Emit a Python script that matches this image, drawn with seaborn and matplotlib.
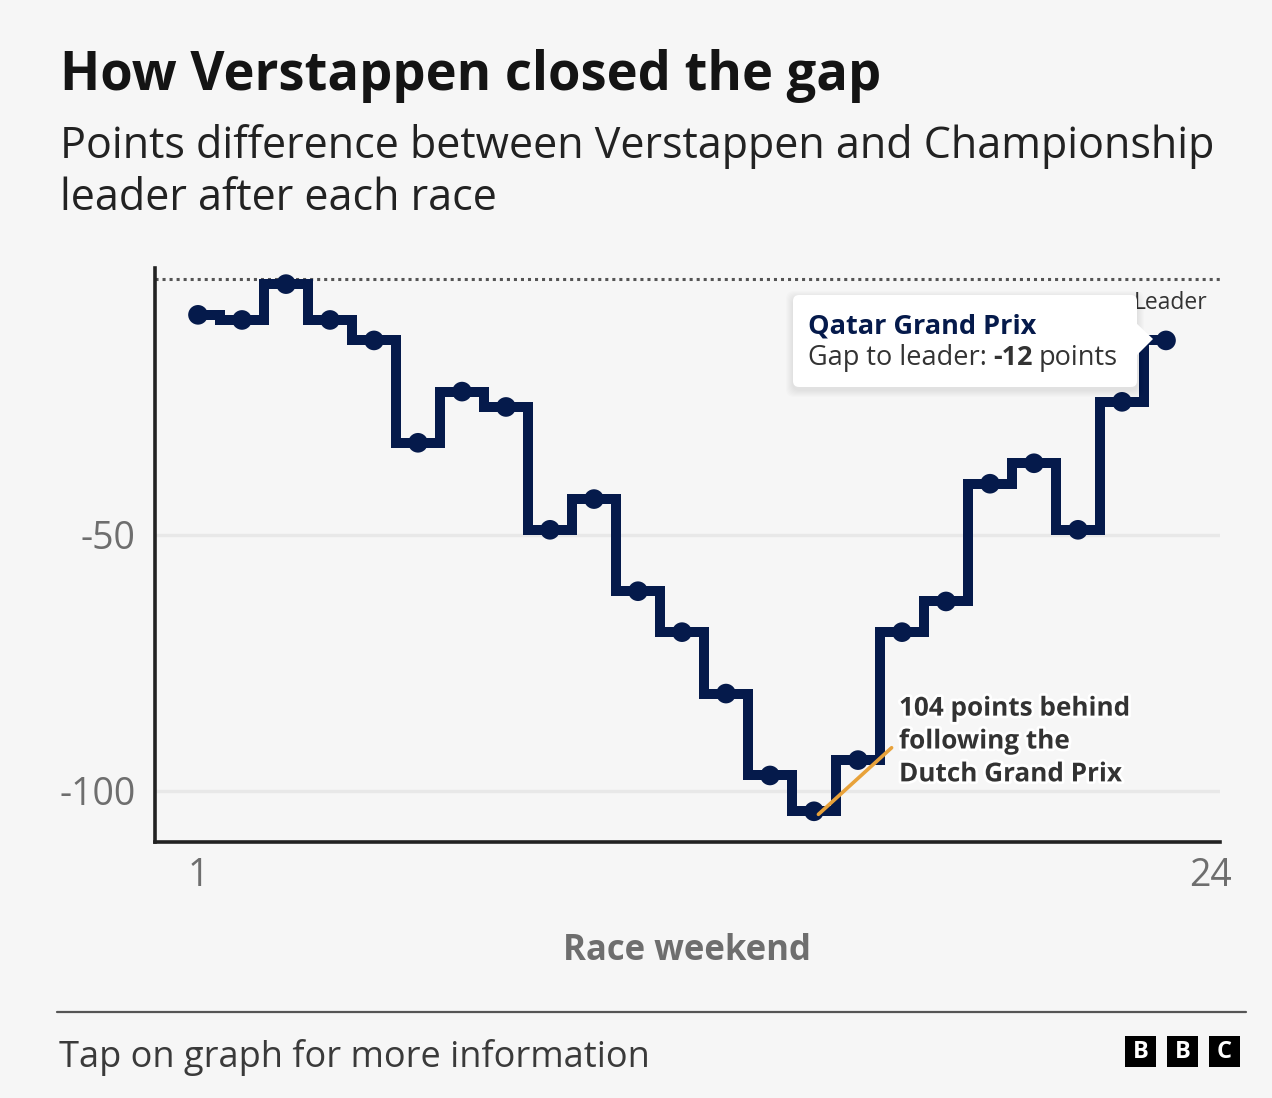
import matplotlib.pyplot as plt
import seaborn as sns
import pandas as pd
from matplotlib.transforms import Affine2D
from matplotlib.patches import FancyBboxPatch, Polygon, Rectangle
from matplotlib.lines import Line2D
import matplotlib.patheffects as pe

# data
races = list(range(1, 24))
gap = [-7, -8, -1, -8, -12, -32, -22, -25, -49, -43, -61, -69,
       -81, -97, -104, -94, -69, -63, -40, -36, -49, -24, -12]
y_ticks = [-50, -100]
x_ticks = [1, 24]
tip_race = "Qatar Grand Prix"
tip_gap = gap[-1]
low_note = "104 points behind\nfollowing the\nDutch Grand Prix"

df = pd.DataFrame({"race": races, "gap": gap})

W, H = 1272, 1098
BG = "#f6f6f6"
NAVY = "#051a4b"

sns.set_theme(style="white")
plt.rcParams["font.family"] = ["Open Sans", "DejaVu Sans"]

fig = plt.figure(figsize=(W / 100, H / 100), dpi=100, facecolor=BG)
# pixel coords, origin top-left
px = Affine2D().scale(1, -1).translate(0, H)

ax = fig.add_axes([155 / W, 1 - 842 / H, (1220 - 155) / W, (842 - 268) / H])
ax.set_facecolor(BG)

for v in y_ticks:
    ax.axhline(v, color="#e8e8e8", lw=2.4, zorder=0)
ax.axhline(0, color="#555555", lw=2.2, ls=(0, (1, 1.3)), zorder=1)

sns.lineplot(data=df, x="race", y="gap", ax=ax, color=NAVY, lw=7.2,
             drawstyle="steps-mid", solid_joinstyle="miter",
             solid_capstyle="butt", zorder=3)
sns.scatterplot(data=df, x="race", y="gap", ax=ax, color=NAVY, s=200,
                edgecolor="none", zorder=4)

ax.set_xlim(1 - 43 / 44, 24 + 10 / 44)
ax.set_ylim(-110, 2.15)
ax.set_xticks(x_ticks)
ax.set_xticklabels([str(v) for v in x_ticks])
ax.set_yticks(y_ticks)
ax.set_yticklabels([str(v) for v in y_ticks])
ax.tick_params(axis="both", length=10, width=2.4, color="#222222",
               labelcolor="#6e6e6e", labelsize=27, pad=4)
ax.tick_params(axis="x", pad=1)
ax.set_xlabel("")
ax.set_ylabel("")
for s in ["top", "right"]:
    ax.spines[s].set_visible(False)
for s in ["left", "bottom"]:
    ax.spines[s].set_color("#222222")
    ax.spines[s].set_linewidth(2.6)

# low point note
i_min = gap.index(min(gap))
ax.annotate(low_note, xy=(races[i_min] + 0.1, gap[i_min] - 0.6),
            xytext=(899, 741), textcoords=px, ha="left", va="center",
            fontsize=18.8, fontweight="bold", color="#333333", linespacing=1.28,
            path_effects=[pe.withStroke(linewidth=4, foreground="white")],
            arrowprops=dict(arrowstyle="-", color="#e8a23a", lw=2.6,
                            relpos=(0, 0.5), shrinkA=4, shrinkB=0),
            zorder=6)

fig.text(1207, 309, "Leader", transform=px, ha="right", va="baseline",
         fontsize=16.5, color="#333333", zorder=2)

# tooltip
for k in range(1, 8):
    fig.add_artist(FancyBboxPatch((793 - k, 295 - k + 3), 344 + 2 * k, 92 + 2 * k,
                                  boxstyle="round,pad=0,rounding_size=8",
                                  transform=px, fc="black", ec="none",
                                  alpha=0.012, zorder=4))
fig.add_artist(FancyBboxPatch((793, 295), 344, 92,
                              boxstyle="round,pad=0,rounding_size=6",
                              transform=px, fc="white", ec="none", zorder=5))
fig.add_artist(Polygon([(1135, 322), (1153, 339), (1135, 357)], closed=True,
                       transform=px, fc="white", ec="none", zorder=5))
fig.text(808, 334, tip_race, transform=px, fontsize=19.5, fontweight="bold",
         color=NAVY, zorder=6)
fig.canvas.draw()
renderer = fig.canvas.get_renderer()
x = 808
for txt, w in [("Gap to leader:", "normal"), (str(tip_gap), "bold"), ("points", "normal")]:
    t = fig.text(x, 365, txt, transform=px, fontsize=19.5, fontweight=w,
                 color="#333333", zorder=6)
    x += t.get_window_extent(renderer).width + 6

# titles
fig.text(60, 90, "How Verstappen closed the gap", transform=px,
         fontsize=37.8, fontweight="bold", color="#141414")
fig.text(60, 158, "Points difference between Verstappen and Championship",
         transform=px, fontsize=31, color="#222222")
fig.text(60, 210, "leader after each race", transform=px, fontsize=31,
         color="#222222")
fig.text(687, 960, "Race weekend", transform=px, ha="center",
         fontsize=25, fontweight="bold", color="#6e6e6e")

# footer
fig.add_artist(Line2D([57, 1246], [1012, 1012], transform=px,
                      color="#555555", lw=1.6))
fig.text(59, 1067, "Tap on graph for more information", transform=px,
         fontsize=26, color="#3a3a3a")
for j, letter in enumerate("BBC"):
    x0 = 1125 + j * 42
    fig.add_artist(Rectangle((x0, 1036), 31, 31, transform=px,
                             fc="black", ec="none"))
    fig.text(x0 + 15.5, 1052, letter, transform=px, ha="center",
             va="center", fontsize=17, fontweight="bold", color="white")

fig.savefig("out.png", dpi=100, facecolor=BG)
